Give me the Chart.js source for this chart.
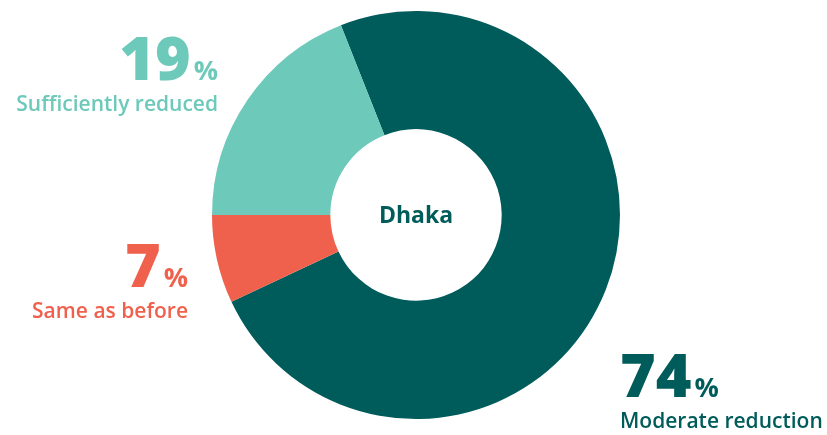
<!DOCTYPE html>
<html>
<head>
<meta charset="utf-8">
<script src="https://cdn.jsdelivr.net/npm/chart.js@4.4.0/dist/chart.umd.min.js"></script>
<style>
  html, body { margin: 0; padding: 0; background: #fff; }
  #wrap { width: 827px; height: 435px; position: relative; }
</style>
</head>
<body>
<div id="wrap"><canvas id="myChart" width="827" height="435"></canvas></div>
<script>
// datos
const categories = ['Moderate reduction', 'Same as before', 'Sufficiently reduced'];
const shares = [74, 7, 19];
const colors = ['#005b5b', '#f0614d', '#6dc9b9'];
const centerLabel = 'Dhaka';

// posición de las etiquetas (alineación y punto de anclaje)
const labelLayout = [
    { x: 620, y: 397, align: 'left' },
    { x: 188, y: 287, align: 'right' },
    { x: 218, y: 80, align: 'right' }
];

const labelsPlugin = {
    id: 'labelsPlugin',
    afterDraw(chart) {
        const ctx = chart.ctx;
        ctx.save();
        ctx.textBaseline = 'alphabetic';
        categories.forEach((cat, i) => {
            const pos = labelLayout[i];
            const num = String(shares[i]);
            ctx.fillStyle = colors[i];
            ctx.font = '800 61px "Open Sans"';
            const numW = ctx.measureText(num).width;
            ctx.font = '700 27px "Open Sans"';
            const pctW = ctx.measureText('%').width;
            const gap = 3;
            let x0 = pos.align === 'left' ? pos.x : pos.x - (numW + gap + pctW);
            ctx.textAlign = 'left';
            ctx.font = '800 61px "Open Sans"';
            ctx.fillText(num, x0, pos.y);
            ctx.font = '700 27px "Open Sans"';
            ctx.fillText('%', x0 + numW + gap, pos.y);

            ctx.font = '600 21px "Open Sans"';
            ctx.textAlign = pos.align;
            ctx.fillText(cat, pos.x, pos.y + 31);
        });

        // texto central
        const meta = chart.getDatasetMeta(0).data[0];
        ctx.font = '700 23px "Open Sans"';
        ctx.fillStyle = colors[0];
        ctx.textAlign = 'center';
        ctx.textBaseline = 'middle';
        ctx.fillText(centerLabel, meta.x, meta.y + 1);
        ctx.restore();
    }
};

const canvas = document.getElementById('myChart');
new Chart(canvas.getContext('2d'), {
    type: 'doughnut',
    data: {
        labels: categories,
        datasets: [{
            data: shares,
            backgroundColor: colors,
            borderWidth: 0,
            hoverOffset: 0
        }]
    },
    options: {
        responsive: false,
        animation: false,
        rotation: -21.6,
        cutout: '42%',
        layout: { padding: { top: 11, bottom: 16, left: 5, right: 0 } },
        plugins: {
            legend: { display: false },
            tooltip: { enabled: false }
        }
    },
    plugins: [labelsPlugin]
});
</script>
</body>
</html>
